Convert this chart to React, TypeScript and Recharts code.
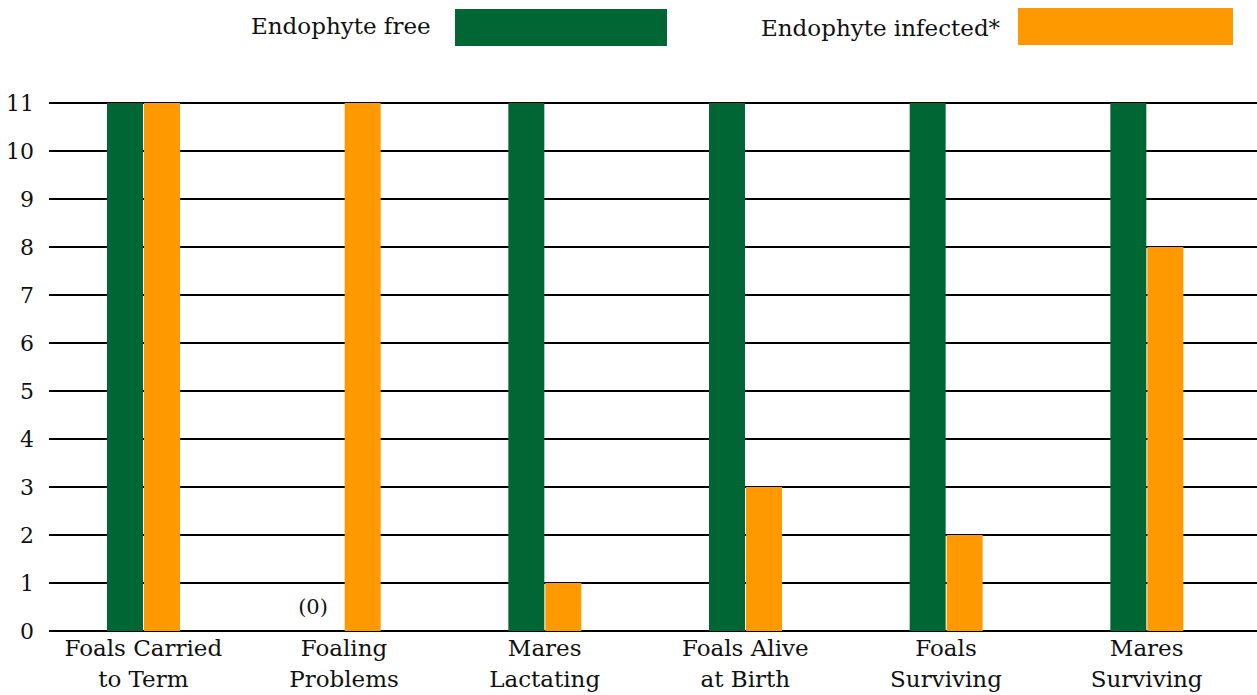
import React from 'react';
import { BarChart, Bar, XAxis, YAxis, CartesianGrid, ReferenceDot } from 'recharts';

const CATEGORIES = [
  'Foals Carried\nto Term',
  'Foaling\nProblems',
  'Mares\nLactating',
  'Foals Alive\nat Birth',
  'Foals\nSurviving',
  'Mares\nSurviving',
];
const ENDOPHYTE_FREE = [11, 0, 11, 11, 11, 11];
const ENDOPHYTE_INFECTED = [11, 11, 1, 3, 2, 8];
const Y_TICKS = [0, 1, 2, 3, 4, 5, 6, 7, 8, 9, 10, 11];
const SERIES_NAMES = ['Endophyte free', 'Endophyte infected*'];

const GREEN = '#006633';
const ORANGE = '#ff9900';
const FONT = '"DejaVu Serif", serif';

const data = CATEGORIES.map((name, i) => ({
  name,
  free: ENDOPHYTE_FREE[i],
  infected: ENDOPHYTE_INFECTED[i],
}));

// categories where the green bar is empty get a "(0)" marker
const zeroFree = data.filter((d) => d.free === 0);

// two-line category labels
const CategoryTick = (props: any) => {
  const { x, y, payload } = props;
  const lines = String(payload.value).split('\n');
  return (
    <text x={x} y={y} textAnchor="middle" fontFamily={FONT} fontSize={23} fill="#111">
      {lines.map((line, i) => (
        <tspan key={i} x={x} dy={i === 0 ? 17 : 31}>
          {line}
        </tspan>
      ))}
    </text>
  );
};

const zeroLabel = (props: any) => {
  const vb = props.viewBox || {};
  return (
    <text x={vb.x - 31} y={vb.y - 17} textAnchor="middle" fontFamily={FONT} fontSize={21} fill="#111">
      (0)
    </text>
  );
};

const LegendBox = () => (
  <div style={{ position: 'absolute', left: 0, top: 0, width: 1257, height: 60, fontFamily: FONT, fontSize: 23, color: '#111', lineHeight: 'normal' }}>
    <span style={{ position: 'absolute', left: 251, top: 13, whiteSpace: 'nowrap' }}>{SERIES_NAMES[0]}</span>
    <div style={{ position: 'absolute', left: 455, top: 9, width: 212, height: 37, background: GREEN }} />
    <span style={{ position: 'absolute', left: 761, top: 15, whiteSpace: 'nowrap' }}>{SERIES_NAMES[1]}</span>
    <div style={{ position: 'absolute', left: 1018, top: 8, width: 215, height: 37, background: ORANGE }} />
  </div>
);

export default function App() {
  return (
    <div style={{ position: 'absolute', left: 0, top: 0, width: 1257, height: 695, background: '#fff' }}>
      <BarChart
        width={1257}
        height={695}
        data={data}
        margin={{ top: 103, right: 0, bottom: 0, left: 0 }}
        barGap={1}
        barSize={36}
      >
        <CartesianGrid vertical={false} stroke="#000" strokeWidth={2} strokeOpacity={1} />
        <XAxis
          dataKey="name"
          axisLine={false}
          tickLine={false}
          tick={<CategoryTick />}
          height={64}
          interval={0}
          padding={{ left: -6, right: 10 }}
        />
        <YAxis
          width={49}
          domain={[0, 11]}
          ticks={Y_TICKS}
          axisLine={false}
          tickLine={false}
          tick={{ fontFamily: FONT, fontSize: 22, fill: '#111' }}
          tickMargin={9}
        />
        <Bar dataKey="free" fill={GREEN} isAnimationActive={false} />
        <Bar dataKey="infected" fill={ORANGE} isAnimationActive={false} />
        {zeroFree.map((d) => (
          <ReferenceDot
            key={d.name}
            x={d.name}
            y={0}
            r={0}
            fill="none"
            stroke="none"
            ifOverflow="visible"
            label={zeroLabel}
          />
        ))}
      </BarChart>
      <LegendBox />
    </div>
  );
}
